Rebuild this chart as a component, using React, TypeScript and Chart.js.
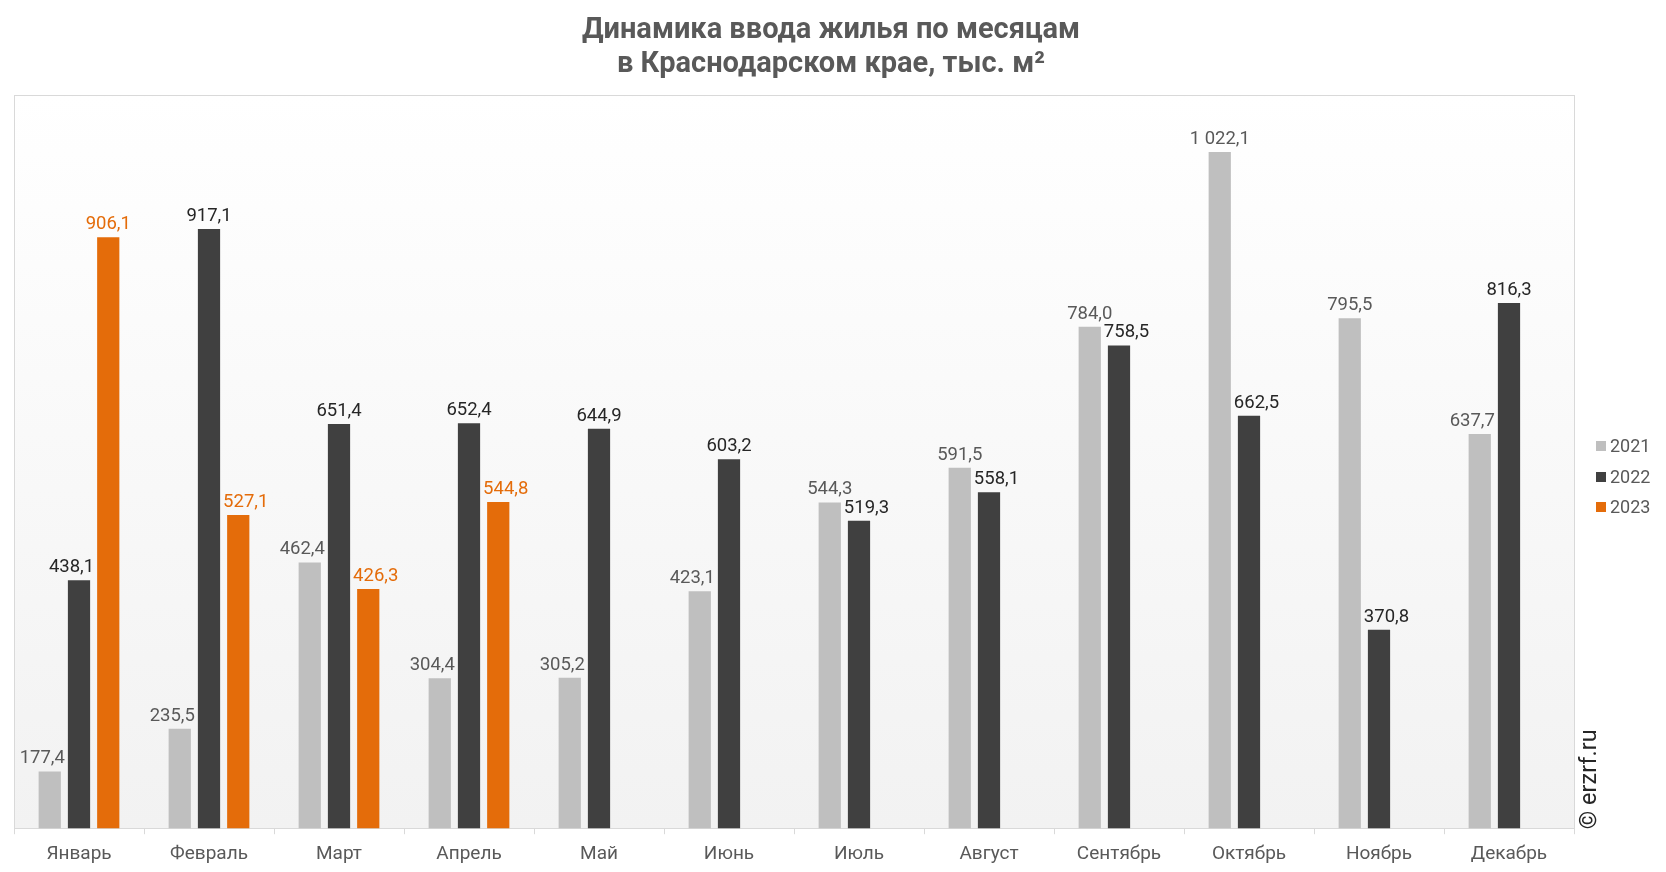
import React, { useEffect, useRef } from "react";
import { Chart, registerables } from "chart.js";

Chart.register(...registerables);

const months = ["Январь", "Февраль", "Март", "Апрель", "Май", "Июнь", "Июль", "Август", "Сентябрь", "Октябрь", "Ноябрь", "Декабрь"];
const years = ["2021", "2022", "2023"];
const values2021 = [177.4, 235.5, 462.4, 304.4, 305.2, 423.1, 544.3, 591.5, 784.0, 1022.1, 795.5, 637.7];
const values2022 = [438.1, 917.1, 651.4, 652.4, 644.9, 603.2, 519.3, 558.1, 758.5, 662.5, 370.8, 816.3];
const values2023 = [906.1, 527.1, 426.3, 544.8, null, null, null, null, null, null, null, null];
const barColors = ["#BFBFBF", "#404040", "#E46C0A"];
const labelColors = ["#595959", "#262626", "#E46C0A"];
const titleLines = ["Динамика ввода жилья по месяцам", "в Краснодарском крае, тыс. м²"];
const watermark = "© erzrf.ru";
const yMin = 100;
const yMax = 1100;

const FONT = "Roboto, 'Noto Sans', sans-serif";

function fmt(v: number): string {
  const [i, d] = v.toFixed(1).split(".");
  return i.replace(/\B(?=(\d{3})+(?!\d))/g, " ") + "," + d;
}

const decorPlugin = {
  id: "decor",
  beforeDraw(chart: any) {
    const { ctx, chartArea: a, width, height } = chart;
    ctx.save();
    ctx.fillStyle = "#ffffff";
    ctx.fillRect(0, 0, width, height);
    const g = ctx.createLinearGradient(0, a.top, 0, a.bottom);
    g.addColorStop(0, "#ffffff");
    g.addColorStop(1, "#f2f2f2");
    ctx.fillStyle = g;
    ctx.fillRect(a.left, a.top, a.right - a.left, a.bottom - a.top);
    ctx.strokeStyle = "#d9d9d9";
    ctx.lineWidth = 1;
    ctx.strokeRect(Math.round(a.left) + 0.5, Math.round(a.top) + 0.5, Math.round(a.right - a.left), Math.round(a.bottom - a.top));
    ctx.restore();
  },
  afterDraw(chart: any) {
    const { ctx, chartArea: a } = chart;
    ctx.save();
    // title
    ctx.fillStyle = "#595959";
    ctx.font = `bold 29px ${FONT}`;
    ctx.textAlign = "center";
    ctx.textBaseline = "alphabetic";
    ctx.fillText(titleLines[0], 831, 38);
    ctx.fillText(titleLines[1], 831, 72);
    // legend
    ctx.font = `18px ${FONT}`;
    ctx.textAlign = "left";
    ctx.textBaseline = "middle";
    const legendYs = [446, 477, 507];
    chart.data.datasets.forEach((ds: any, i: number) => {
      ctx.fillStyle = barColors[i];
      ctx.fillRect(1596, legendYs[i] - 5, 10, 10);
      ctx.fillStyle = "#595959";
      ctx.fillText(ds.label, 1610, legendYs[i] + 1);
    });
    // watermark
    ctx.translate(1590, a.bottom + 1);
    ctx.rotate(-Math.PI / 2);
    ctx.font = `23.5px ${FONT}`;
    ctx.fillStyle = "#262626";
    ctx.textAlign = "left";
    ctx.textBaseline = "middle";
    ctx.fillText(watermark, 0, 0);
    ctx.restore();
  },
  afterDatasetsDraw(chart: any) {
    const { ctx } = chart;
    ctx.save();
    ctx.font = `18.5px ${FONT}`;
    ctx.textAlign = "center";
    ctx.textBaseline = "alphabetic";
    const gap = 3;
    const metas = chart.data.datasets.map((_: any, di: number) => chart.getDatasetMeta(di));
    for (let i = 0; i < months.length; i++) {
      const bars: any[] = [];
      chart.data.datasets.forEach((ds: any, di: number) => {
        const v = ds.data[i];
        if (v == null) return;
        const el = metas[di].data[i];
        bars.push({ di, v, x: el.x, y: el.y, w: el.width });
      });
      bars.forEach((b, k) => {
        const text = fmt(b.v);
        const tw = ctx.measureText(text).width;
        const baseline = b.y - 8;
        let cx = b.x;
        const L = bars[k - 1];
        const R = bars[k + 1];
        if (R && R.y < baseline && cx + tw / 2 > R.x - R.w / 2 - gap) {
          cx = R.x - R.w / 2 - gap - tw / 2;
        } else if (L && L.y < baseline && cx - tw / 2 < L.x + L.w / 2 + gap) {
          cx = L.x + L.w / 2 + gap + tw / 2;
        }
        ctx.fillStyle = labelColors[b.di];
        ctx.fillText(text, cx, baseline);
      });
    }
    ctx.restore();
  },
};

export default function App() {
  const ref = useRef<HTMLCanvasElement>(null);
  useEffect(() => {
    document.body.style.margin = "0";
    const seriesValues = [values2021, values2022, values2023];
    const chart = new Chart(ref.current as HTMLCanvasElement, {
      type: "bar",
      data: {
        labels: months,
        datasets: years.map((y, i) => ({
          label: y,
          data: seriesValues[i],
          backgroundColor: barColors[i],
          categoryPercentage: 0.675,
          barPercentage: 0.76,
        })),
      },
      options: {
        animation: false,
        responsive: true,
        maintainAspectRatio: false,
        layout: { padding: { left: 14, right: 92, top: 95, bottom: -3 } },
        plugins: {
          legend: { display: false },
          title: { display: false },
          tooltip: { enabled: false },
        },
        scales: {
          x: {
            offset: true,
            grid: { display: true, drawOnChartArea: false, drawTicks: true, tickLength: 6, color: "#d9d9d9", offset: true },
            border: { display: true, color: "#d9d9d9" },
            ticks: { color: "#595959", font: { family: FONT, size: 19 }, padding: 9, maxRotation: 0, autoSkip: false },
          },
          y: {
            display: false,
            min: yMin,
            max: yMax,
          },
        },
      },
      plugins: [decorPlugin],
    });
    return () => chart.destroy();
  }, []);
  return (
    <div style={{ position: "relative", width: 1666, height: 872 }}>
      <canvas ref={ref} />
    </div>
  );
}
